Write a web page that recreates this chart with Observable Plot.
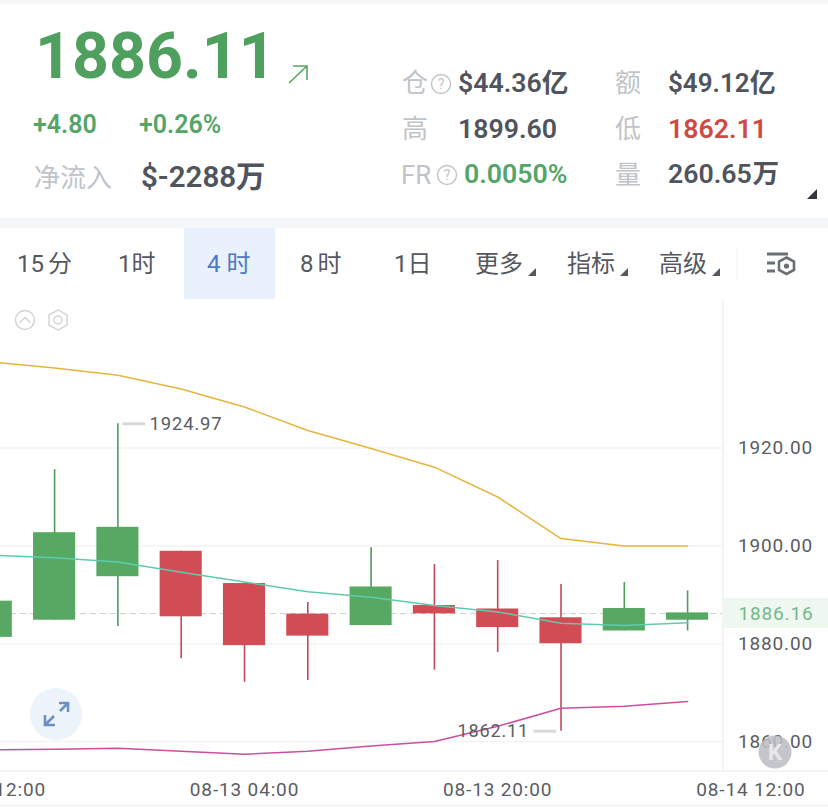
<!DOCTYPE html>
<html lang="zh">
<head>
<meta charset="utf-8">
<script src="https://cdn.jsdelivr.net/npm/d3@7"></script>
<script src="https://cdn.jsdelivr.net/npm/@observablehq/plot@0.6"></script>
<style>
html,body{margin:0;padding:0;background:#fff;}
#page{position:relative;width:828px;height:812px;overflow:hidden;font-family:Roboto,"Noto Sans CJK SC",sans-serif;background:#fff;}
#head{position:absolute;left:0;top:0;width:828px;height:300px;}
#chart{position:absolute;left:0;top:300px;width:828px;height:512px;}
#chart text{letter-spacing:0.85px;}
.t{position:absolute;line-height:1;white-space:nowrap;transform:translateY(-50%);}
.lab{font-size:26px;color:#c0c4c8;font-weight:400;}
.val{font-size:26.7px;color:#50545c;font-weight:600;}
.nav{font-size:24px;color:#55585f;font-weight:400;}
.ov{position:absolute;left:0;top:0;pointer-events:none;}
.sep{position:absolute;}
</style>
</head>
<body>
<div id="page">
  <div id="head">
    <div style="position:absolute;left:0;top:0;width:828px;height:6px;background:linear-gradient(#f2f2f2,#fff)"></div>
    <div style="position:absolute;left:0;top:218px;width:828px;height:10px;background:#f5f6f8"></div>
    <div style="position:absolute;left:184px;top:228px;width:91px;height:71px;background:#e8f1fc"></div>

    <span class="t" style="left:35px;top:56px;font-size:64.5px;font-weight:700;color:#4fa05f">1886.11</span>
    <span class="t" style="left:33px;top:124px;font-size:25px;font-weight:600;color:#55a468">+4.80</span>
    <span class="t" style="left:139px;top:124px;font-size:25px;font-weight:600;color:#55a468">+0.26%</span>
    <span class="t lab" style="left:34px;top:178px">净流入</span>
    <span class="t val" style="left:141px;top:178px;font-size:29.5px">$-2288万</span>

    <span class="t lab" style="left:402px;top:83px">仓</span>
    <span class="t val" style="left:458px;top:83px">$44.36亿</span>
    <span class="t lab" style="left:615px;top:83px">额</span>
    <span class="t val" style="left:668px;top:83px;font-size:26px">$49.12亿</span>

    <span class="t lab" style="left:402px;top:129px">高</span>
    <span class="t val" style="left:458px;top:129px">1899.60</span>
    <span class="t lab" style="left:615px;top:129px">低</span>
    <span class="t val" style="left:668px;top:129px;color:#cf4a45">1862.11</span>

    <span class="t lab" style="left:401px;top:175px">FR</span>
    <span class="t val" style="left:464px;top:174px;color:#55a468">0.0050%</span>
    <span class="t lab" style="left:615px;top:175px">量</span>
    <span class="t val" style="left:668px;top:174px;word-spacing:-6px">260.65 万</span>

    <span class="t nav" style="left:17px;top:264px;word-spacing:-2px">15 分</span>
    <span class="t nav" style="left:118px;top:264px">1时</span>
    <span class="t nav" style="left:207px;top:264px;color:#4b78c8">4 时</span>
    <span class="t nav" style="left:300px;top:264px;word-spacing:-2px">8 时</span>
    <span class="t nav" style="left:394px;top:264px">1日</span>
    <span class="t nav" style="left:475px;top:264px">更多</span>
    <span class="t nav" style="left:567px;top:264px">指标</span>
    <span class="t nav" style="left:659px;top:264px">高级</span>
  </div>
  <div class="sep" style="left:722px;top:300px;width:1.5px;height:471px;background:#f4f4f5"></div>
  <div class="sep" style="left:0;top:770px;width:828px;height:2px;background:#f2f3f5"></div>
  <div class="sep" style="left:0;top:804px;width:828px;height:3px;background:#f6f7f8"></div>
  <div class="sep" style="left:724px;top:598px;width:104px;height:30px;background:#eef7f0"></div>
  <div id="chart"></div>
  <svg class="ov" width="828" height="812" viewBox="0 0 828 812" fill="none">
    <path d="M289 83 L307 66 M293 66 H307 V80" stroke="#55a468" stroke-width="1.6"/>
    <g stroke="#c0c4c8" stroke-width="1.4">
      <circle cx="441" cy="84" r="9.5"/><circle cx="447" cy="175" r="9.5"/>
    </g>
    <g fill="#c0c4c8" font-family="Roboto" font-size="14" text-anchor="middle">
      <text x="441" y="89">?</text><text x="447" y="180">?</text>
    </g>
    <g fill="#33363b">
      <path d="M817 189 V199 H807 Z"/>
      <path d="M536 268 V276 H528 Z" fill="#55585f"/>
      <path d="M628 268 V276 H620 Z" fill="#55585f"/>
      <path d="M720 268 V276 H712 Z" fill="#55585f"/>
    </g>
    <line x1="737" y1="248" x2="737" y2="280" stroke="#f2f2f2"/>
    <g stroke="#6a6e75" stroke-width="3">
      <path d="M767 254 H788 M767 263 H775 M767 271 H775"/>
      <path d="M786.5 257.5 L794 261.5 V270 L786.5 274 L779 270 V261.5 Z" stroke-width="2.6"/>
    </g>
    <circle cx="786.5" cy="266" r="2.6" fill="#6a6e75"/>
    <g stroke="#d0d2d5" stroke-width="1.4">
      <circle cx="25" cy="320" r="9.5"/><path d="M19.5 322.5 L25 317.5 L30.5 322.5"/>
      <path d="M58 310 L67 315 V325 L58 330 L49 325 V315 Z"/><circle cx="58" cy="320" r="4"/>
    </g>
    <circle cx="56" cy="714" r="26" fill="#edf3fa"/>
    <g stroke="#6d90c0" stroke-width="2.6">
      <path d="M46 724 L54 716 M45 715 V725 H55"/>
      <path d="M68 703 L60 711 M59 703 H68 V712"/>
    </g>
    <circle cx="775" cy="752" r="16.5" fill="#bcbec4" fill-opacity="0.88"/>
    <text x="775" y="760" text-anchor="middle" font-family="Roboto" font-size="22" font-weight="700" fill="#e9e9ec">K</text>
  </svg>
</div>
<script>
const times = ["2023-08-12T12:00Z","2023-08-12T16:00Z","2023-08-12T20:00Z","2023-08-13T00:00Z","2023-08-13T04:00Z","2023-08-13T08:00Z","2023-08-13T12:00Z","2023-08-13T16:00Z","2023-08-13T20:00Z","2023-08-14T00:00Z","2023-08-14T04:00Z","2023-08-14T08:00Z"];
const open  = [1881.3,1884.8,1893.7,1898.9,1892.3,1886.05,1883.7,1887.8,1887.1,1885.3,1882.6,1884.8];
const close = [1888.7,1902.7,1903.8,1885.5,1879.6,1881.55,1891.6,1886.1,1883.3,1880.0,1887.2,1886.3];
const high  = [1888.7,1915.6,1924.97,1898.9,1892.3,1888.4,1899.6,1896.2,1897.0,1892.1,1892.5,1890.8];
const low   = [1881.3,1884.8,1883.5,1876.9,1872.1,1872.5,1883.7,1874.6,1878.2,1862.11,1882.6,1882.6];
const upper = [1937.6,1936.4,1934.9,1932.1,1928.4,1923.6,1919.9,1916.1,1910.0,1901.5,1900.0,1900.0];
const middle= [1898.1,1897.6,1896.7,1894.6,1892.6,1890.6,1889.5,1887.8,1886.5,1884.2,1883.7,1884.3];
const lower = [1858.3,1858.4,1858.6,1858.0,1857.4,1858.0,1859.1,1860.0,1863.1,1866.8,1867.2,1868.2];
const yTicks = [1920,1900,1880,1860];
const xTickLabels = ["2023-08-12T12:00Z","2023-08-13T04:00Z","2023-08-13T20:00Z","2023-08-14T12:00Z"];
const lastPrice = 1886.16;
const highMark = {time:"2023-08-12T20:00Z", value:1924.97};
const lowMark  = {time:"2023-08-14T00:00Z", value:1862.11};

const H = 3600e3;
const GREEN = "#57a862", RED = "#d14c55";
const candles = times.map((t,i)=>{
  const up = close[i]>=open[i];
  return {t:new Date(t),open:open[i],close:close[i],high:high[i],low:low[i],col:up?GREEN:RED,wick:up?"#509c5c":"#c04a5c"};
});
const series = (vals)=>vals.map((v,i)=>({t:new Date(times[i]),v}));
const shift = (d,h)=>new Date(+new Date(d)+h*H);
const t0 = new Date(times[0]);
const bodyHalf = 1.33;

const fontFamily = 'Roboto,"Noto Sans CJK SC",sans-serif';
const chart = Plot.plot({
  width:828, height:512,
  marginLeft:0, marginRight:106, marginTop:0, marginBottom:41,
  style:{fontFamily, fontSize:"19px", background:"transparent", overflow:"hidden"},
  x:{type:"utc", domain:[t0, shift(t0,48)], range:[-9.2,750.4]},
  y:{domain:[1920,1860], range:[147.6,441]},
  marks:[
    Plot.gridY(yTicks,{stroke:"#f3f3f4",strokeOpacity:1,strokeWidth:1.5}),
    Plot.ruleY([lastPrice],{stroke:"#cfcfcf",strokeWidth:1,strokeDasharray:"6 4"}),
    Plot.ruleX(candles,{x:"t",y1:"low",y2:"high",stroke:"wick",strokeWidth:1.6}),
    Plot.rect(candles,{x1:d=>shift(d.t,-bodyHalf),x2:d=>shift(d.t,bodyHalf),y1:"open",y2:"close",fill:"col"}),
    Plot.line(series(upper),{x:"t",y:"v",stroke:"#e6b53f",strokeWidth:1.5}),
    Plot.line(series(middle),{x:"t",y:"v",stroke:"#5ecbb0",strokeWidth:1.5}),
    Plot.line(series(lower),{x:"t",y:"v",stroke:"#cb4f9f",strokeWidth:1.5}),
    Plot.ruleY([highMark],{y:"value",x1:d=>shift(d.time,0.32),x2:d=>shift(d.time,1.75),stroke:"#d9d9d9",strokeWidth:3}),
    Plot.text([highMark],{x:d=>new Date(d.time),y:"value",text:d=>d.value.toFixed(2),textAnchor:"start",dx:31.5,fill:"#5a5d63",fontSize:18.5}),
    Plot.ruleY([lowMark],{y:"value",x1:d=>shift(d.time,-1.7),x2:d=>shift(d.time,-0.27),stroke:"#d9d9d9",strokeWidth:3}),
    Plot.text([lowMark],{x:d=>new Date(d.time),y:"value",text:d=>d.value.toFixed(2),textAnchor:"end",dx:-32,fill:"#5a5d63",fontSize:18}),
    Plot.axisY({anchor:"right",ticks:yTicks,tickFormat:d=>d.toFixed(2),tickSize:0,tickPadding:15.5,label:null,fontSize:19,fill:"#5a5d63"}),
    Plot.text([lastPrice],{y:d=>d,frameAnchor:"right",textAnchor:"start",dx:16,text:d=>d.toFixed(2),fill:"#74b98b",fontSize:19}),
    Plot.axisX({anchor:"bottom",ticks:xTickLabels.map(d=>new Date(d)),tickFormat:d3.utcFormat("%m-%d %H:%M"),tickSize:0,tickPadding:11,label:null,fontSize:19,fill:"#5a5d63"})
  ]
});
document.getElementById("chart").appendChild(chart);
</script>
</body>
</html>
